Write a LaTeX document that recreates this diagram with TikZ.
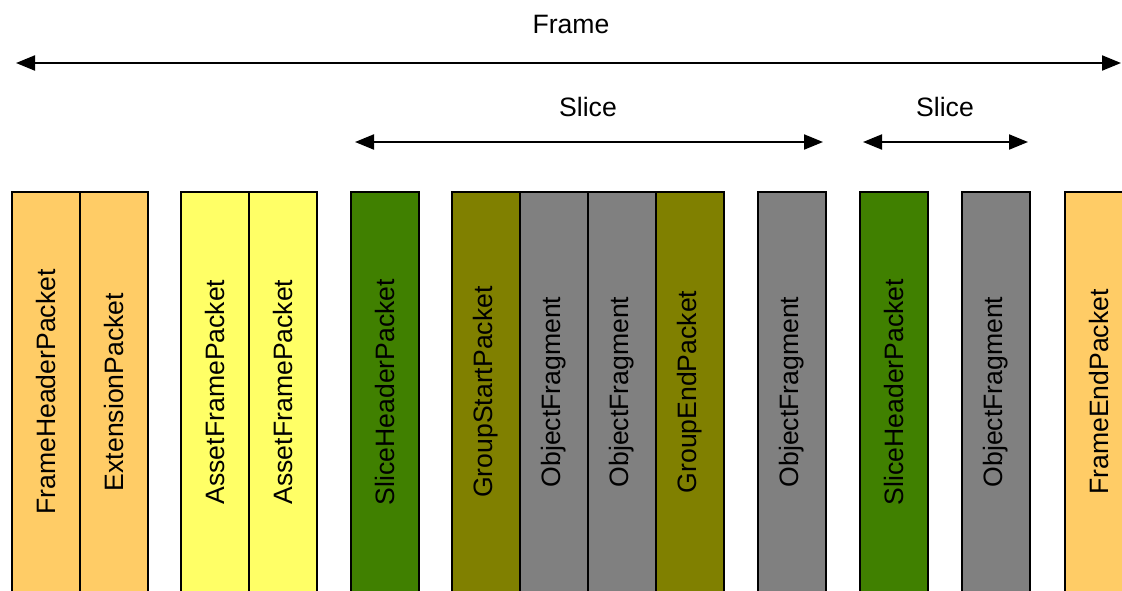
\documentclass[tikz,border=0pt]{standalone}
\usepackage{fontspec}
\setmainfont{Liberation Sans}
\usetikzlibrary{arrows.meta}
\definecolor{hdrorange}{HTML}{FFCC66}
\definecolor{assetyellow}{HTML}{FFFF66}
\definecolor{slicegreen}{HTML}{408000}
\definecolor{groupolive}{HTML}{808000}
\definecolor{fraggrey}{HTML}{808080}
\tikzset{
  packet/.style={draw=black, line width=1pt, minimum width=34pt, minimum height=200pt,
    inner sep=0pt, font=\fontsize{13.3}{15}\selectfont},
  span/.style={line width=1pt, {Triangle[length=9.5pt,width=7.5pt]}-{Triangle[length=9.5pt,width=7.5pt]}},
  caption/.style={font=\fontsize{13.3}{15}\selectfont}
}
\newcommand{\vtext}[1]{\rotatebox{90}{#1}}
\begin{document}
\begin{tikzpicture}[x=0.5pt,y=-0.5pt]
  \useasboundingbox (0,0) rectangle (1122,590);
  \clip (0,0) rectangle (1122,590);
  % frame packets
  \node[packet, fill=hdrorange]   (fh)  at (46,392)   {\vtext{FrameHeaderPacket}};
  \node[packet, fill=hdrorange]   (ext) at (114,392)  {\vtext{ExtensionPacket}};
  \node[packet, fill=assetyellow] (af1) at (215,392)  {\vtext{AssetFramePacket}};
  \node[packet, fill=assetyellow] (af2) at (283,392)  {\vtext{AssetFramePacket}};
  % first slice
  \node[packet, fill=slicegreen]  (sh1) at (385,392)  {\vtext{SliceHeaderPacket}};
  \node[packet, fill=groupolive]  (gs)  at (486,392)  {\vtext{GroupStartPacket}};
  \node[packet, fill=fraggrey]    (of1) at (554,392)  {\vtext{ObjectFragment}};
  \node[packet, fill=fraggrey]    (of2) at (622,392)  {\vtext{ObjectFragment}};
  \node[packet, fill=groupolive]  (ge)  at (690,392)  {\vtext{GroupEndPacket}};
  \node[packet, fill=fraggrey]    (of3) at (792,392)  {\vtext{ObjectFragment}};
  % second slice
  \node[packet, fill=slicegreen]  (sh2) at (894,392)  {\vtext{SliceHeaderPacket}};
  \node[packet, fill=fraggrey]    (of4) at (996,392)  {\vtext{ObjectFragment}};
  \node[packet, fill=hdrorange]   (fe)  at (1099,392) {\vtext{FrameEndPacket}};
  % extents
  \coordinate (frameL) at (16,63);
  \coordinate (frameR) at (1121,63);
  \coordinate (slice1L) at (355,142);
  \coordinate (slice1R) at (823,142);
  \coordinate (slice2L) at (863,142);
  \coordinate (slice2R) at (1028,142);
  \draw[span] (frameL) -- (frameR);
  \draw[span] (slice1L) -- (slice1R);
  \draw[span] (slice2L) -- (slice2R);
  \node[caption] (frameLbl)  at (571,24)  {Frame};
  \node[caption] (slice1Lbl) at (588,107) {Slice};
  \node[caption] (slice2Lbl) at (945,107) {Slice};
\end{tikzpicture}
\end{document}
